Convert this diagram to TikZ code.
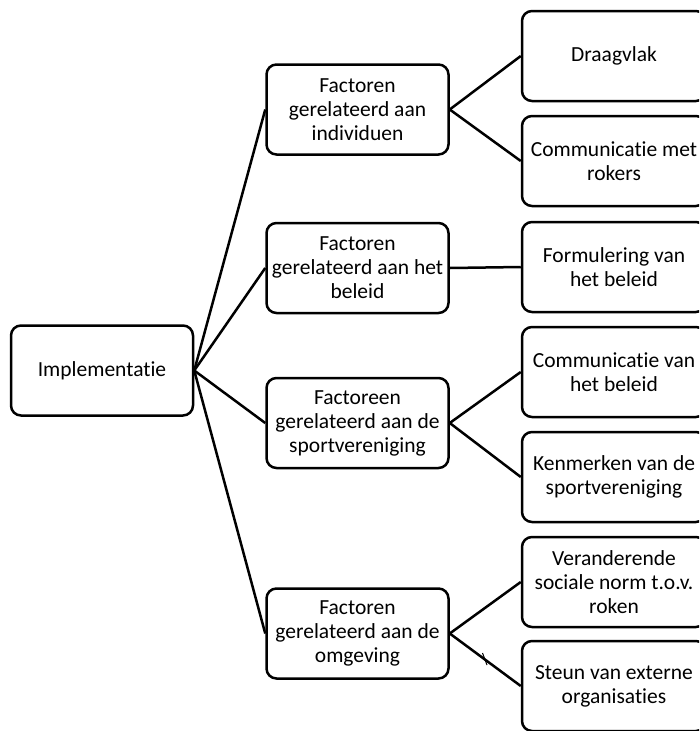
\documentclass[tikz,border=0pt]{standalone}
\usepackage{fontspec}
\setmainfont{Carlito}[Ligatures=NoCommon]
\begin{document}
\begin{tikzpicture}[x=1pt,y=-1pt,
  box/.style={draw, line width=2.5pt, rounded corners=10pt, minimum width=182pt, minimum height=90pt, align=center, inner sep=2pt, font=\fontsize{21.5}{24}\selectfont},
  conn/.style={line width=2.5pt}]
\useasboundingbox (0,0) rectangle (699,731);
\clip (0,0) rectangle (699,731);
\node[box] (impl) at (102,370.5) {Implementatie};
\node[box] (f1) at (357.5,109.5) {Factoren\\gerelateerd aan\\individuen};
\node[box] (f2) at (357.5,268) {Factoren\\gerelateerd aan het\\beleid};
\node[box] (f3) at (357.5,423) {Factoreen\\gerelateerd aan de\\sportvereniging};
\node[box] (f4) at (357.5,633.5) {Factoren\\gerelateerd aan de\\omgeving};
\node[box, minimum width=184pt] (r1) at (614,56) {Draagvlak};
\node[box, minimum width=184pt] (r2) at (614,161) {Communicatie met\\rokers};
\node[box, minimum width=184pt] (r3) at (614,267) {Formulering van\\het beleid};
\node[box, minimum width=184pt] (r4) at (614,372) {Communicatie van\\het beleid};
\node[box, minimum width=184pt] (r5) at (614,477) {Kenmerken van de\\sportvereniging};
\node[box, minimum width=184pt] (r6) at (614,582) {Veranderende\\sociale norm t.o.v.\\roken};
\node[box, minimum width=184pt] (r7) at (614,686) {Steun van externe\\organisaties};
\foreach \t in {f1,f2,f3,f4} \draw[conn] (impl.east) -- (\t.west);
\draw[conn] (f1.east) -- (r1.west);
\draw[conn] (f1.east) -- (r2.west);
\draw[conn] (f2.east) -- (r3.west);
\draw[conn] (f3.east) -- (r4.west);
\draw[conn] (f3.east) -- (r5.west);
\draw[conn] (f4.east) -- (r6.west);
\draw[conn] (f4.east) -- (r7.west);
\coordinate (tk1) at (482.5,653);
\coordinate (tk2) at (487,665);
\draw[line width=1pt] (tk1) -- (tk2);
\end{tikzpicture}
\end{document}
